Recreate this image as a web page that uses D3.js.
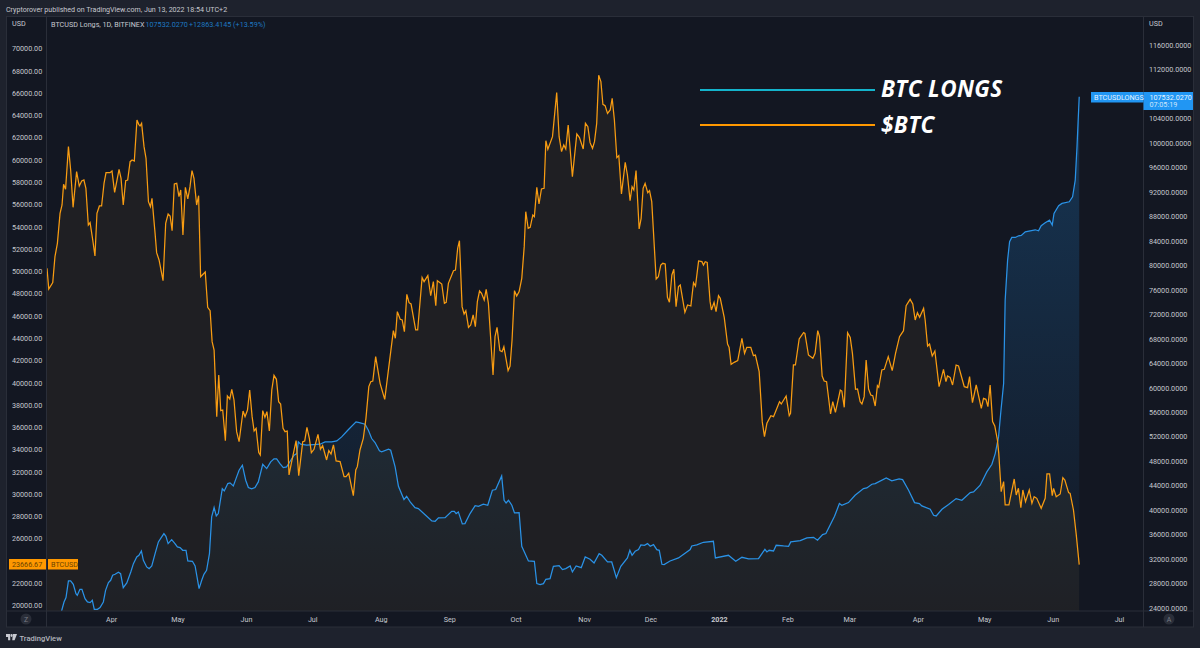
<!DOCTYPE html>
<html><head><meta charset="utf-8">
<script src="https://cdn.jsdelivr.net/npm/d3@7"></script>
<style>html,body{margin:0;padding:0;background:#1e222d;overflow:hidden}svg{display:block}</style>
</head><body><svg id="c" width="1200" height="648"></svg>
<script>
// days since 2021-03-03 and daily closes
const btcDays=[0,.8,2.6,3.6,4.7,5.9,6.8,7.5,8.4,9.7,10.7,11.8,13.4,14.6,15.7,16.7,17.6,18.7,19.5,20.7,21.7,22.6,23.7,24.7,25.8,26.7,28.5,29.4,30.6,32.6,33.5,34.5,35.6,36.5,37.6,38.5,39.5,40.7,41.5,42.1,42.8,43.9,44.8,45.9,46.8,47.5,48.9,49.6,50.7,52.5,53.7,54.8,55.7,56.6,57.6,58.7,59.7,60.5,61.5,62.6,63.7,64.7,65.6,66.5,67.7,68.6,69.5,70.7,71.6,72.7,73.8,74.7,75.6,76.8,77.7,78.6,79.5,80.7,81.6,82.7,83.6,84.6,85.8,86.9,88.7,89.6,90.7,91.7,92.8,93.7,94.6,95.8,96.5,97.6,98.6,99.5,100.6,101.7,102.7,103.8,104.8,105.7,106.8,107.7,108.7,109.5,110.7,112.7,113.9,115.7,116.6,117.6,118.7,119.6,120.8,122.6,123.7,124.7,126.5,127.5,128.5,129.6,130.8,132.6,134.4,135.3,136.5,138.6,139.7,140.4,141.6,143.1,144.3,145.6,146.5,147.4,148.7,150.7,152.8,156.7,157.6,158.5,159.8,160.7,161.7,162.8,163.8,164.7,166.8,167.7,169.7,170.6,172.3,173.6,174.8,175.9,176.6,178.6,179.8,180.6,181.6,183.9,184.8,185.8,186.6,187.8,188.7,189.5,190.7,191.7,192.8,193.8,194.7,195.7,196.6,197.8,198.7,199.7,201.8,202.7,203.6,204.9,205.9,206.7,208.6,209.5,210.4,211.5,212.5,213.6,214.8,215.9,216.6,217.7,218.6,219.8,220.5,221.6,222.6,223.7,224.9,225.7,226.6,228.7,230.6,231.7,232.8,233.8,234.7,235.8,237.7,239.7,240.9,242.6,243.6,244.7,245.7,246.8,247.7,248.7,249.6,250.6,251.5,252.5,253.6,254.8,255.7,256.7,257.8,258.7,259.9,261.6,262.6,263.8,264.7,265.5,266.5,267.9,268.8,269.7,270.6,271.8,272.6,273.6,275.6,276.6,277.7,278.6,279.7,280.7,281.6,282.7,283.6,284.6,285.7,286.5,288.6,289.8,291.3,292.5,293.4,294.8,296.3,297,297.8,298.7,300,300.6,301.8,302.7,303.8,304.6,306.4,307.9,308.6,309.5,310.9,312.5,314.4,315.6,316.6,318.4,319.6,320.5,322.2,323.6,324.6,325.7,327.5,328.7,331.4,332.2,334.4,335.8,336.4,337.7,338.6,340.3,342.3,342.9,344.5,346.5,347.5,348.7,349.5,350.7,351.6,352.7,354.5,355.5,356.7,358.9,359.6,360.7,362.2,363.4,364.4,365.8,366.7,367.9,368.7,369.7,370.6,371.7,372.7,373.6,374.7,375.7,376.3,377.7,378.8,380.6,382.4,383.9,385.7,387.5,388.7,390.5,391.7,392.8,393.8,394.8,396.6,397.3,398.4,399.3,400.5,401.7,403.6,405.6,406.7,407.4,408.6,409.7,411.3,412.4,415,416.5,417.4,418.7,420.4,422.7,423.7,424.8,425.7,426.7,427.8,428.8,430,430.6,431.7,432.8,433.5,435.2,437.6,438.5,439.5,440.6,441.5,442.7,444.4,445.6,446.6,447.8,449.8,451.6,452.4,453.6,454.8,455.4,456.6,458.4,459.6,460.5,462.2,462.9,464.4,465.6,467];
const btcClose=[50268,48412,48981,51315,52511,55204,55952,57807,57358,61188,59094,55743,58944,57658,58106,58196,57448,54157,54366,52811,51374,55204,55862,55862,57897,58854,58854,59004,57089,59154,58346,55952,58136,58196,59842,59991,59902,63582,63193,63043,63283,61188,60141,56251,55803,56551,53409,51674,51015,49160,54307,55144,54965,53648,57837,57897,56700,57299,53259,57538,56491,57598,59034,58346,55952,56790,49519,49759,49938,46767,46468,43685,42937,36953,40693,37492,37551,34799,38808,38539,39406,38449,35607,34709,37462,36953,37551,39347,36953,35666,35906,33722,33512,37492,36893,37402,35666,39347,40663,40304,38299,38090,35906,35607,35666,31717,32914,34799,31657,34709,34769,35996,35008,33722,34021,35367,34021,34350,33063,33901,33602,34410,32974,32914,31567,31567,31867,29862,32166,32465,33961,35008,36803,39646,40095,40154,42339,39946,38509,44673,43985,46378,45690,45630,44583,47934,47186,47067,44733,44733,49430,49071,49610,47815,49071,46917,49161,48862,47126,47216,48922,50059,50118,52063,52751,46827,46169,46468,44972,45182,46079,45032,47276,48233,48024,47426,48383,47126,40694,44134,44972,42878,42788,43237,41083,41501,43835,48263,47785,48174,49370,52213,55354,53858,53948,55055,54906,57539,56043,57389,57449,61727,60949,62086,66036,62086,60740,61338,60979,63134,58496,62326,61997,60979,63283,62984,61548,61039,61638,63283,67592,67023,64989,64869,64181,64480,65527,63582,60201,60381,56940,59783,58646,56342,57598,57299,59035,53799,54756,57449,57898,57060,57239,56252,49311,49520,50567,50717,50657,47665,47216,49670,50178,46827,48622,48772,46316,46975,46885,48979,48680,50924,50864,50565,50864,50804,47274,46526,47214,46376,47812,47573,45868,43474,43175,41649,41828,41978,43983,42636,43175,43175,42427,42487,40991,36503,35156,36353,37041,36951,38298,38088,38806,37041,37251,41589,41589,43923,44491,44431,42487,42187,42636,44671,44132,40602,40153,40093,37191,38298,37340,39345,39255,37789,44491,44072,42636,39405,39435,38298,38088,38747,42038,39435,38896,38836,37909,39734,39584,41140,41200,42337,41080,42636,44132,44671,46915,47483,47064,45628,46286,45868,46675,45628,43294,43474,42397,42846,39644,41200,40093,40602,40482,39794,41589,41499,39644,39554,40542,38208,39794,37699,38597,38507,37849,39794,36503,36114,34857,33660,30219,31117,29023,29023,31356,29920,30519,28783,30369,29322,30369,29172,29771,29621,28723,29621,31805,31805,29860,30519,29771,30010,31476,31267,30130,30070,28574,26479,23666.67];
const longDays=[5.9,6.6,7.7,8.6,9.7,10.7,11.9,13.1,13.7,14.9,15.8,17.2,18.3,19.5,20.5,21.4,22.8,24,25.5,26.5,27.8,28.8,29.7,30.8,32.3,33.3,34.5,36.1,37.9,39.1,40.6,41.6,42.7,43.6,45.1,46.2,47.4,48.9,50.4,51.9,52.9,53.8,54.8,56.4,57.9,59,60.2,61.4,62.9,63.7,65.8,67,68.8,70,71,72.2,73.5,74.5,75.6,76.6,77.5,79.3,80.2,81.8,82.8,84.3,85.8,86.9,88.4,89.9,91.1,92.6,94.1,95.6,97.6,99.4,101.2,102.7,103.9,105.4,106.9,108.4,110.3,111.8,113,113.7,114.8,117.5,120.5,123.5,125.8,128.8,131.1,133.3,136.4,139.8,141.3,143.9,145.4,146.9,148.4,150.4,151.4,154.5,155.5,157.5,159,161.5,162.7,164.3,166.5,168,171.8,174.1,175.6,177.1,180.1,183.1,184.3,185.1,186.1,187.9,189.1,191.4,193.7,195.2,197.4,199.4,201.5,203,205.7,206.8,207.7,208.8,210.3,211.5,213.6,214.8,217.8,220.5,221.6,223.1,224.6,225.7,227.6,229.1,231.7,233.2,234.7,236.7,237.7,239.4,241.7,243.5,245.7,247.5,249.8,251,253.6,255.5,257.6,259.6,262.6,263.7,264.7,266.1,267.6,268.7,270.3,271.7,272.9,274.4,275.9,277,278.2,279.2,281.9,285.7,291,291.7,294,297,301.5,302.4,308.3,311.6,314.4,317.4,321.9,324.8,325.7,326.7,328.7,329.9,333.2,335.5,336.5,340.8,343.8,346.8,348.6,350.9,352.4,356.3,358.5,359.6,362.6,365.6,369.4,370.9,373.2,374.7,379.7,382.2,385.5,387.1,389.8,392.5,394.7,395.8,399.6,401.1,402.3,404.9,407.9,411.3,413.9,417.7,419.2,422.2,425.2,427.5,429,430.5,431.6,432.8,433.5,434.6,435.5,436.5,438.1,439.6,440.8,442.6,444.8,447.1,448.6,449.8,451.6,453.6,454.8,455.6,457.7,459.2,462.5,464,465.2,466,467];
const longValues=[22533,23514,24985,25694,28419,28419,27874,26348,26075,27056,27056,25530,24985,24876,25258,23786,23786,24059,24985,26893,28146,28528,29345,29509,29836,29618,27329,28092,29890,31253,32343,32615,33324,31798,30708,30435,30871,32888,34795,35613,36158,35722,34523,35177,34523,33978,33869,33433,33433,31689,31634,30871,27165,28528,29509,30163,32888,38883,40409,39046,39428,43515,43134,44333,44442,43951,45423,46513,47330,44878,43679,43461,43679,44605,47494,46785,47875,48366,48366,47603,46949,47058,48148,48965,49238,51145,50764,50600,50709,50764,51145,51145,51309,51963,53162,54415,54306,54034,53053,51690,51036,49674,49510,49946,49783,47058,43897,41717,42262,41335,40409,40245,38992,38229,38174,38719,38774,39809,39809,39428,39700,37738,37793,39428,40736,40627,40954,40790,43243,43352,45585,41607,41171,41607,40789,39536,39590,34086,31688,31633,27982,27818,27982,28690,28799,30816,30925,30271,30434,30870,29889,30870,30598,32342,31960,31361,32887,32614,31524,31524,28963,30816,32178,33432,32614,33268,33541,34304,34249,34522,34086,34358,33541,33432,31143,31088,31688,32178,33541,34140,34304,34740,34903,32178,32614,31633,32287,32015,32069,33595,33159,33432,33323,34249,34140,34086,34794,35012,35448,35557,35067,35993,36157,38991,41062,40789,41225,42424,43514,43623,44223,44332,45258,44768,45095,44986,43242,41225,41062,40680,40135,39154,39045,40135,40898,41879,41607,42860,42969,44059,46239,47494,49237,51962,56322,60682,74307,80847,83844,84553,84553,84825,84880,85479,85643,85806,85643,86460,86951,87387,86569,88477,89730,90112,90384,91202,93927,99377,107532.027];
const leftTicks=d3.range(20000,70001,2000);
const rightTicks=d3.range(24000,116001,4000);
const monthTicks=[[2021,3,"Apr"],[2021,4,"May"],[2021,5,"Jun"],[2021,6,"Jul"],[2021,7,"Aug"],[2021,8,"Sep"],[2021,9,"Oct"],[2021,10,"Nov"],[2021,11,"Dec"],[2022,0,"2022"],[2022,1,"Feb"],[2022,2,"Mar"],[2022,3,"Apr"],[2022,4,"May"],[2022,5,"Jun"],[2022,6,"Jul"]];
const publishLine="Cryptorover published on TradingView.com, Jun 13, 2022 18:54 UTC+2";

const FS=7.2;
const L=46.5,R=1143.5,T=16.5,B=611,FR=1193.5,FB=627;
const start=Date.UTC(2021,2,3), dayMs=864e5;
const toDate=d=>new Date(start+d*dayMs);
const x=d3.scaleUtc().domain([toDate(0),toDate(485)]).range([47,1119]);
const yL=d3.scaleLinear().domain([20000,70000]).range([605.5,48.5]);
const yR=d3.scaleLinear().domain([24000,116000]).range([608,45]);
const svg=d3.select("#c");
const AXC="#c6c8cf",LINE="#2a2e39",ORANGE="#f89c12",BLUE="#2a92e6";

svg.append("rect").attr("width",1200).attr("height",648).attr("fill","#1e222d");
svg.append("rect").attr("x",L-40).attr("y",T).attr("width",FR-L+40).attr("height",FB-T).attr("fill","#131722").attr("stroke",LINE);
const defs=svg.append("defs");
defs.append("clipPath").attr("id","pane").append("rect").attr("x",L).attr("y",T).attr("width",R-L).attr("height",B-T);
const g=defs.append("linearGradient").attr("id","blueGrad").attr("gradientUnits","userSpaceOnUse").attr("x1",0).attr("x2",0).attr("y1",yR(107532)).attr("y2",B);
g.append("stop").attr("offset",0).attr("stop-color","#2196f3").attr("stop-opacity",.24);
g.append("stop").attr("offset",1).attr("stop-color","#2196f3").attr("stop-opacity",.01);

const pane=svg.append("g").attr("clip-path","url(#pane)");
const longPts=longDays.map((d,i)=>[toDate(d),longValues[i]]);
const btcPts=btcDays.map((d,i)=>[toDate(d),btcClose[i]]);
pane.append("path").datum(longPts).attr("fill","url(#blueGrad)").attr("d",d3.area().x(d=>x(d[0])).y0(B).y1(d=>yR(d[1])));
pane.append("path").datum(btcPts).attr("fill","#ffc040").attr("fill-opacity",.05).attr("d",d3.area().x(d=>x(d[0])).y0(B).y1(d=>yL(d[1])));
pane.append("path").datum(longPts).attr("fill","none").attr("stroke",BLUE).attr("stroke-width",1.25).attr("d",d3.line().x(d=>x(d[0])).y(d=>yR(d[1])));
pane.append("path").datum(btcPts).attr("fill","none").attr("stroke",ORANGE).attr("stroke-width",1.25).attr("d",d3.line().x(d=>x(d[0])).y(d=>yL(d[1])));

// frame dividers
[[L,T,L,FB],[R,T,R,FB],[L-40,B,FR,B]].forEach(l=>svg.append("line").attr("x1",l[0]).attr("y1",l[1]).attr("x2",l[2]).attr("y2",l[3]).attr("stroke",LINE));

// axes
function styleAxis(sel,dx){sel.select(".domain").remove();sel.selectAll("line").remove();
 sel.selectAll("text").attr("fill",AXC).attr("font-size",FS).attr("text-anchor","start").attr("x",dx).attr("font-family","Roboto,sans-serif");}
svg.append("g").call(d3.axisLeft(yL).tickValues(leftTicks).tickSize(0).tickFormat(d=>d.toFixed(2))).call(s=>styleAxis(s,12));
svg.append("g").call(d3.axisRight(yR).tickValues(rightTicks).tickSize(0).tickFormat(d=>d.toFixed(4))).call(s=>styleAxis(s,1149));
const mDates=monthTicks.map(m=>new Date(Date.UTC(m[0],m[1],1)));
const xAxis=svg.append("g").attr("transform",`translate(0,${B})`).call(d3.axisBottom(x).tickValues(mDates).tickSize(0).tickFormat((d,i)=>monthTicks[i][2]));
xAxis.select(".domain").remove();
xAxis.selectAll("text").attr("fill",AXC).attr("font-size",FS).attr("y",5.5).attr("font-weight",(d,i)=>monthTicks[i][2]==="2022"?"700":"400").attr("font-family","Roboto,sans-serif");

const txt=(s,x0,y0,o={})=>svg.append("text").text(s).attr("x",x0).attr("y",y0).attr("fill",o.c||AXC).attr("font-size",o.s||FS).attr("text-anchor",o.a||"start").attr("font-weight",o.w||400).attr("font-style",o.i||"normal").attr("font-family",o.f||"Roboto,sans-serif");
txt(publishLine,6,11.5,{s:7.1});
txt("USD",12,26.3);txt("USD",1149,26.3);
txt("BTCUSD Longs, 1D, BITFINEX",51,27.3);
txt("107532.0270",145.5,27.3,{c:"#1e78c0"});
txt("+12863.4145 (+13.59%)",189,27.3,{c:"#1e78c0"});

// last-value labels
const box=(x0,y0,w,h,c)=>svg.append("rect").attr("x",x0).attr("y",y0).attr("width",w).attr("height",h).attr("fill",c);
box(9,559,37,10.5,"#ff9800");box(48,559,30,10.5,"#ff9800");
txt("23666.67",12,567,{c:"#6b4300"});txt("BTCUSD",51,567,{c:"#6b4300"});
box(1091,92,52.5,10.5,"#2196f3");box(1143.5,92,49.5,18,"#2196f3");
txt("BTCUSDLONGS",1094,99.8,{c:"#e4f2ff"});
txt("107532.0270",1149.5,99.8,{c:"#e8f4ff"});
txt("07:05:19",1149.5,107.4,{c:"#cfe6fb"});

// hand-drawn annotation
[[90,"#14b4cc","BTC LONGS",97],[125,"#ff9800","$BTC",132.5]].forEach(a=>{
 svg.append("line").attr("x1",700).attr("x2",875).attr("y1",a[0]).attr("y2",a[0]).attr("stroke",a[1]).attr("stroke-width",2);
 txt(a[2],881,a[3],{c:"#ffffff",s:22.5,i:"italic",w:700,f:"'Open Sans',sans-serif"}).attr("letter-spacing",.4);
});

// corner buttons and footer
[[26,"Z"],[1169,"A"]].forEach(b=>{svg.append("circle").attr("cx",b[0]).attr("cy",619).attr("r",5.5).attr("fill","#2a2e39");
 txt(b[1],b[0],621.5,{a:"middle",c:"#787b86",s:7});});
const logo=svg.append("g").attr("fill","#c8cad1").attr("transform","translate(6,634) scale(.65,.9)");
logo.append("path").attr("d","M0 0H6.5V7H3.2V3.2H0Z");
logo.append("circle").attr("cx",8.6).attr("cy",1.6).attr("r",1.6);
logo.append("path").attr("d","M10.6 0H17L13.2 7H9.6Z");
txt("TradingView",19.5,641,{s:7.6,c:"#b2b5be",w:500});
</script></body></html>
